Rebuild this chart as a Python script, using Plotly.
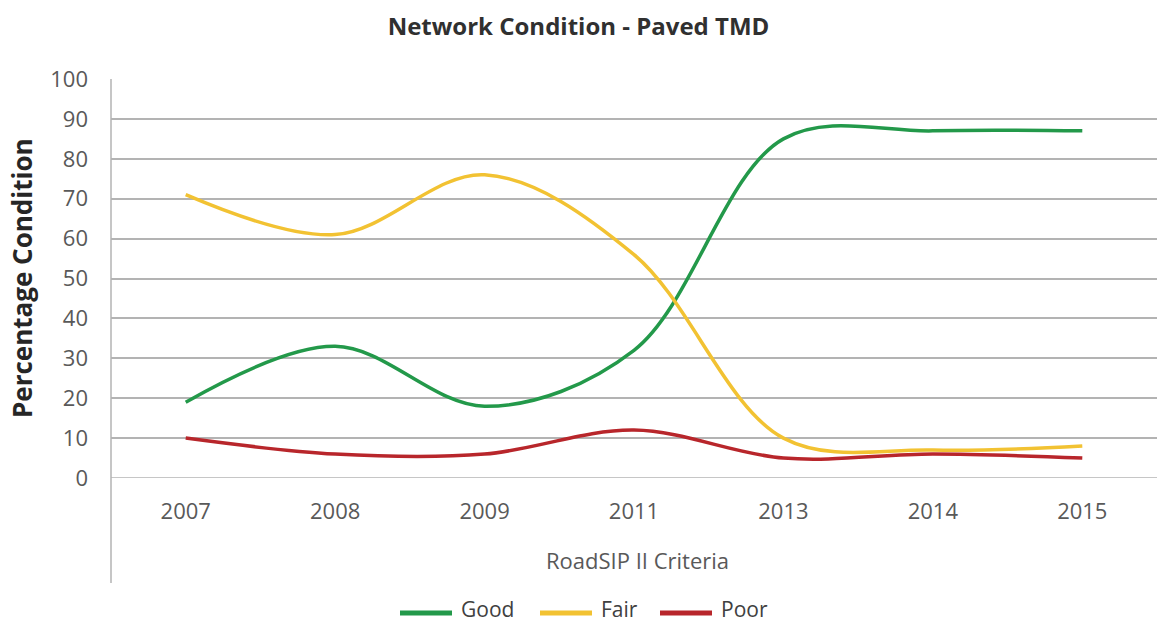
import plotly.graph_objects as go

years = ["2007", "2008", "2009", "2011", "2013", "2014", "2015"]
good = [19, 33, 18, 32, 85, 87, 87]
fair = [71, 61, 76, 56, 10, 7, 8]
poor = [10, 6, 6, 12, 5, 6, 5]

series = [
    ("Good", good, "#23994a"),
    ("Fair", fair, "#f2c232"),
    ("Poor", poor, "#b8262b"),
]

FONT = "'Open Sans', Lato, sans-serif"
GRID = "#b3b3b3"

# plot-area geometry in pixels
W, H = 1157, 625
L, T, B = 111, 79, 147
PW, PH = W - L, H - T - B


def px_x(x):
    return (x - L) / PW


def px_y(y):
    return (H - B - y) / PH


fig = go.Figure()
for name, vals, color in series:
    fig.add_trace(go.Scatter(
        x=years, y=vals, name=name, mode="lines",
        line=dict(color=color, width=3.5, shape="spline", smoothing=1.0),
    ))

fig.update_layout(
    width=W, height=H,
    margin=dict(l=L, r=0, t=T, b=B),
    paper_bgcolor="white", plot_bgcolor="white",
    showlegend=False,
    title=dict(text="<b>Network Condition - Paved TMD</b>", x=0.5, xanchor="center",
               y=1 - 27 / H, yanchor="middle", yref="container",
               font=dict(family=FONT, size=24, color="#303030")),
    font=dict(family=FONT),
)

fig.update_xaxes(
    type="category", range=[-0.5, 6.5], showgrid=False, zeroline=False, showline=False,
    ticks="", ticklabelstandoff=18,
    tickfont=dict(family=FONT, size=22, color="#595959"),
)
fig.update_yaxes(
    range=[0, 100], dtick=10, showgrid=True, gridcolor=GRID, gridwidth=1.5,
    zeroline=False, showline=False, ticks="", ticklabelstandoff=22,
    tickfont=dict(family=FONT, size=22, color="#595959"),
)

# bottom gridline (0) and the left axis line running down through the category band
fig.add_shape(type="line", xref="paper", yref="y", x0=0, x1=1, y0=0, y1=0,
              line=dict(color=GRID, width=1.5), layer="below")
fig.add_shape(type="line", xref="paper", yref="paper", x0=0, x1=0, y0=1, y1=px_y(583),
              line=dict(color=GRID, width=1.5), layer="below")

fig.add_annotation(text="RoadSIP II Criteria", xref="paper", yref="paper",
                   x=px_x(637), y=px_y(560), xanchor="center", yanchor="middle",
                   showarrow=False,
                   font=dict(family=FONT, size=22, color="#595959"))
fig.add_annotation(text="<b>Percentage Condition</b>", xref="paper", yref="paper",
                   x=px_x(22), y=px_y(278), xanchor="center", yanchor="middle",
                   textangle=-90, showarrow=False,
                   font=dict(family=FONT, size=26, color="#262626"))

# legend row: line swatch followed by the series name
legend_x = [400, 540, 660]
for (name, _, color), x0 in zip(series, legend_x):
    fig.add_shape(type="line", xref="paper", yref="paper",
                  x0=px_x(x0), x1=px_x(x0 + 52), y0=px_y(613), y1=px_y(613),
                  line=dict(color=color, width=5))
    fig.add_annotation(text=name, xref="paper", yref="paper",
                       x=px_x(x0 + 59), y=px_y(609), xanchor="left", yanchor="middle",
                       showarrow=False,
                       font=dict(family=FONT, size=21, color="#404040"))

fig.write_html("out.html")
